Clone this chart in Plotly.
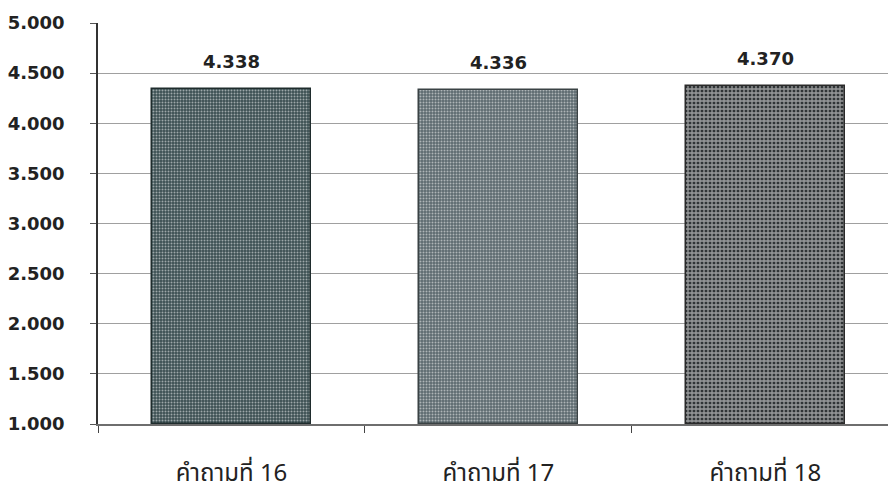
import plotly.graph_objects as go

# Mean scores per question
categories = ["คำถามที่ 16", "คำถามที่ 17", "คำถามที่ 18"]
scores = [4.338, 4.336, 4.370]
y_ticks = [1.0, 1.5, 2.0, 2.5, 3.0, 3.5, 4.0, 4.5, 5.0]

bar_fill = ["#3b4f52", "#5d6a6f", "#303436"]
pattern_fg = ["#506467", "#76848a", "#f6f6f6"]
pattern_shape = [".", ".", "+"]
pattern_size = [3, 3, 4]
pattern_solid = [0.35, 0.35, 0.55]
outline = ["#1f2c2d", "#3a4244", "#2a2a2a"]

fig = go.Figure()
fig.add_trace(go.Bar(
    x=categories,
    y=[s - 1.0 for s in scores],
    base=1.0,
    width=0.595,
    marker=dict(
        color=bar_fill,
        line=dict(color=outline, width=1.5),
        pattern=dict(shape=pattern_shape, fgcolor=pattern_fg, bgcolor=bar_fill,
                     size=pattern_size, solidity=pattern_solid, fillmode="overlay"),
    ),
    hoverinfo="skip",
))

for c, s in zip(categories, scores):
    fig.add_annotation(
        x=c, y=s, text=f"{s:.3f}", showarrow=False,
        yanchor="bottom", yshift=15,
        font=dict(family="DejaVu Sans", size=18, color="#222222", weight="bold"),
    )

fig.update_layout(
    width=888, height=491,
    margin=dict(l=98, r=0, t=23, b=67),
    paper_bgcolor="white", plot_bgcolor="white",
    showlegend=False,
    bargap=0,
)
fig.update_xaxes(
    type="category", categoryorder="array", categoryarray=categories,
    range=[-0.5, 2.459],
    showline=True, linecolor="#6e6e6e", linewidth=1.5,
    ticks="outside", tickson="boundaries", ticklen=7, tickcolor="#444444",
    showgrid=False,
    tickfont=dict(family="Tahoma, Noto Sans Thai, Loma, sans-serif", size=24, color="#222222"),
    ticklabelstandoff=26,
)
fig.update_yaxes(
    range=[1.0, 5.0],
    tickvals=y_ticks, ticktext=[f"{v:.3f}" for v in y_ticks],
    showline=True, linecolor="#333333", linewidth=1.5,
    ticks="outside", ticklen=6, tickcolor="#555555",
    showgrid=True, gridcolor="#a0a0a0", gridwidth=1,
    zeroline=False,
    tickfont=dict(family="DejaVu Sans", size=18, color="#222222", weight="bold"),
    ticklabelstandoff=22,
)

fig.write_html("out.html")
